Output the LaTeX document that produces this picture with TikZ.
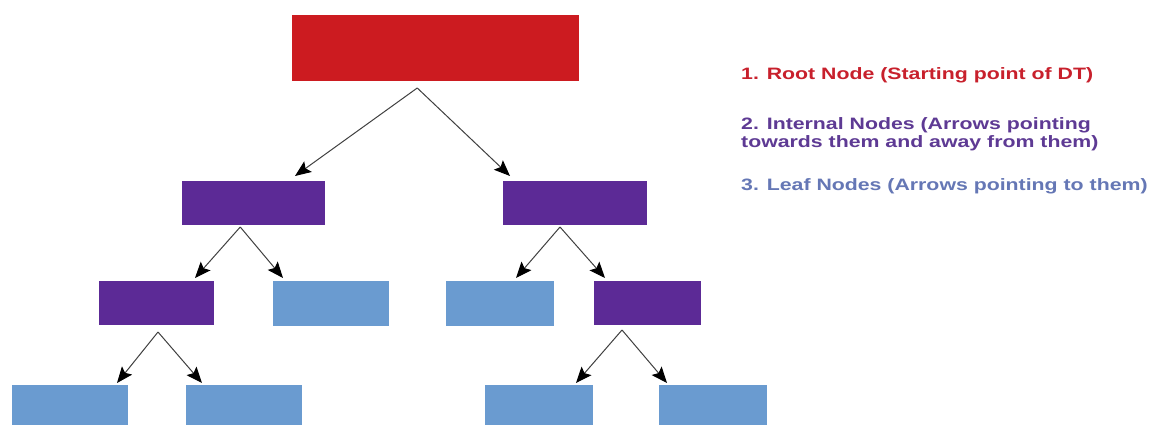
\documentclass[tikz,border=0pt]{standalone}
\usepackage{fontspec}
\setmainfont{Liberation Sans}
\usetikzlibrary{arrows.meta}
\definecolor{rootred}{HTML}{CC1B20}
\definecolor{intpurple}{HTML}{5C2A96}
\definecolor{leafblue}{HTML}{6A9BD0}
\definecolor{txtred}{HTML}{C8202C}
\definecolor{txtpurple}{HTML}{5E3A94}
\definecolor{txtblue}{HTML}{6577B5}
\tikzset{
  box/.style={inner sep=0pt, outer sep=0pt, draw=none, minimum height=44pt},
  rootbox/.style={box, fill=rootred},
  intbox/.style={box, fill=intpurple},
  leafbox/.style={box, fill=leafblue},
  arr/.style={draw=black!75, line width=1pt,
    -{Stealth[length=16pt, width=13pt, inset=3pt, fill=black, color=black]}},
  legend/.style={anchor=west, inner sep=0pt, font=\bfseries\fontsize{16.5}{18}\selectfont, align=left}
}
\newcommand{\wide}[1]{\scalebox{1.29}[1]{#1}}
\begin{document}
\begin{tikzpicture}[x=1pt, y=-1pt]
  \useasboundingbox (0,0) rectangle (1150,425);
  \fill[white] (0,0) rectangle (1150,425);
  \begin{scope}
    \clip (0,0) rectangle (1150,425);
    % tree boxes
    \node[rootbox, minimum width=287.5pt, minimum height=66.5pt] (root) at (435.25,48.25) {};
    \node[intbox, minimum width=143.5pt] (il) at (253.25,203) {};
    \node[intbox, minimum width=144pt] (ir) at (574.5,203) {};
    \node[intbox, minimum width=115pt] (ila) at (156.5,303) {};
    \node[leafbox, minimum width=116.5pt, minimum height=45pt] (llb) at (330.75,303.5) {};
    \node[leafbox, minimum width=108pt, minimum height=45pt] (lrc) at (500,303.5) {};
    \node[intbox, minimum width=107pt] (ird) at (647.5,303) {};
    \node[leafbox, minimum width=116pt] (l1) at (70,407) {};
    \node[leafbox, minimum width=116pt] (l2) at (244,407) {};
    \node[leafbox, minimum width=108pt] (l3) at (539,407) {};
    \node[leafbox, minimum width=108pt] (l4) at (713,407) {};
    % fork points just below each parent
    \coordinate (froot) at ([xshift=-18pt, yshift=-6.5pt]root.south);
    \coordinate (fil) at ([xshift=-13pt, yshift=-2pt]il.south);
    \coordinate (fir) at ([xshift=-14.5pt, yshift=-2pt]ir.south);
    \coordinate (fila) at ([xshift=1.5pt, yshift=-7pt]ila.south);
    \coordinate (fird) at ([xshift=-25.5pt, yshift=-5pt]ird.south);
    % connectors
    \draw[arr] (froot) -- ([xshift=-30pt, yshift=5pt]il.north east);
    \draw[arr] (froot) -- ([xshift=7.5pt, yshift=5pt]ir.north west);
    \draw[arr] (fil) -- ([xshift=-19pt, yshift=3pt]ila.north east);
    \draw[arr] (fil) -- ([xshift=10.5pt, yshift=3pt]llb.north west);
    \draw[arr] (fir) -- ([xshift=-38pt, yshift=3pt]lrc.north east);
    \draw[arr] (fir) -- ([xshift=11pt, yshift=3pt]ird.north west);
    \draw[arr] (fila) -- ([xshift=-11pt, yshift=2pt]l1.north east);
    \draw[arr] (fila) -- ([xshift=16pt, yshift=2pt]l2.north west);
    \draw[arr] (fird) -- ([xshift=-17pt, yshift=2pt]l3.north east);
    \draw[arr] (fird) -- ([xshift=8pt, yshift=2pt]l4.north west);
  \end{scope}
  % legend
  \node[legend, text=txtred] (t1) at (741,75) {\wide{1. Root Node (Starting point of DT)}};
  \node[legend, text=txtpurple] (t2) at (741,134) {\wide{2. Internal Nodes (Arrows pointing}\\\wide{towards them and away from them)}};
  \node[legend, text=txtblue] (t3) at (741,186) {\wide{3. Leaf Nodes (Arrows pointing to them)}};
\end{tikzpicture}
\end{document}
